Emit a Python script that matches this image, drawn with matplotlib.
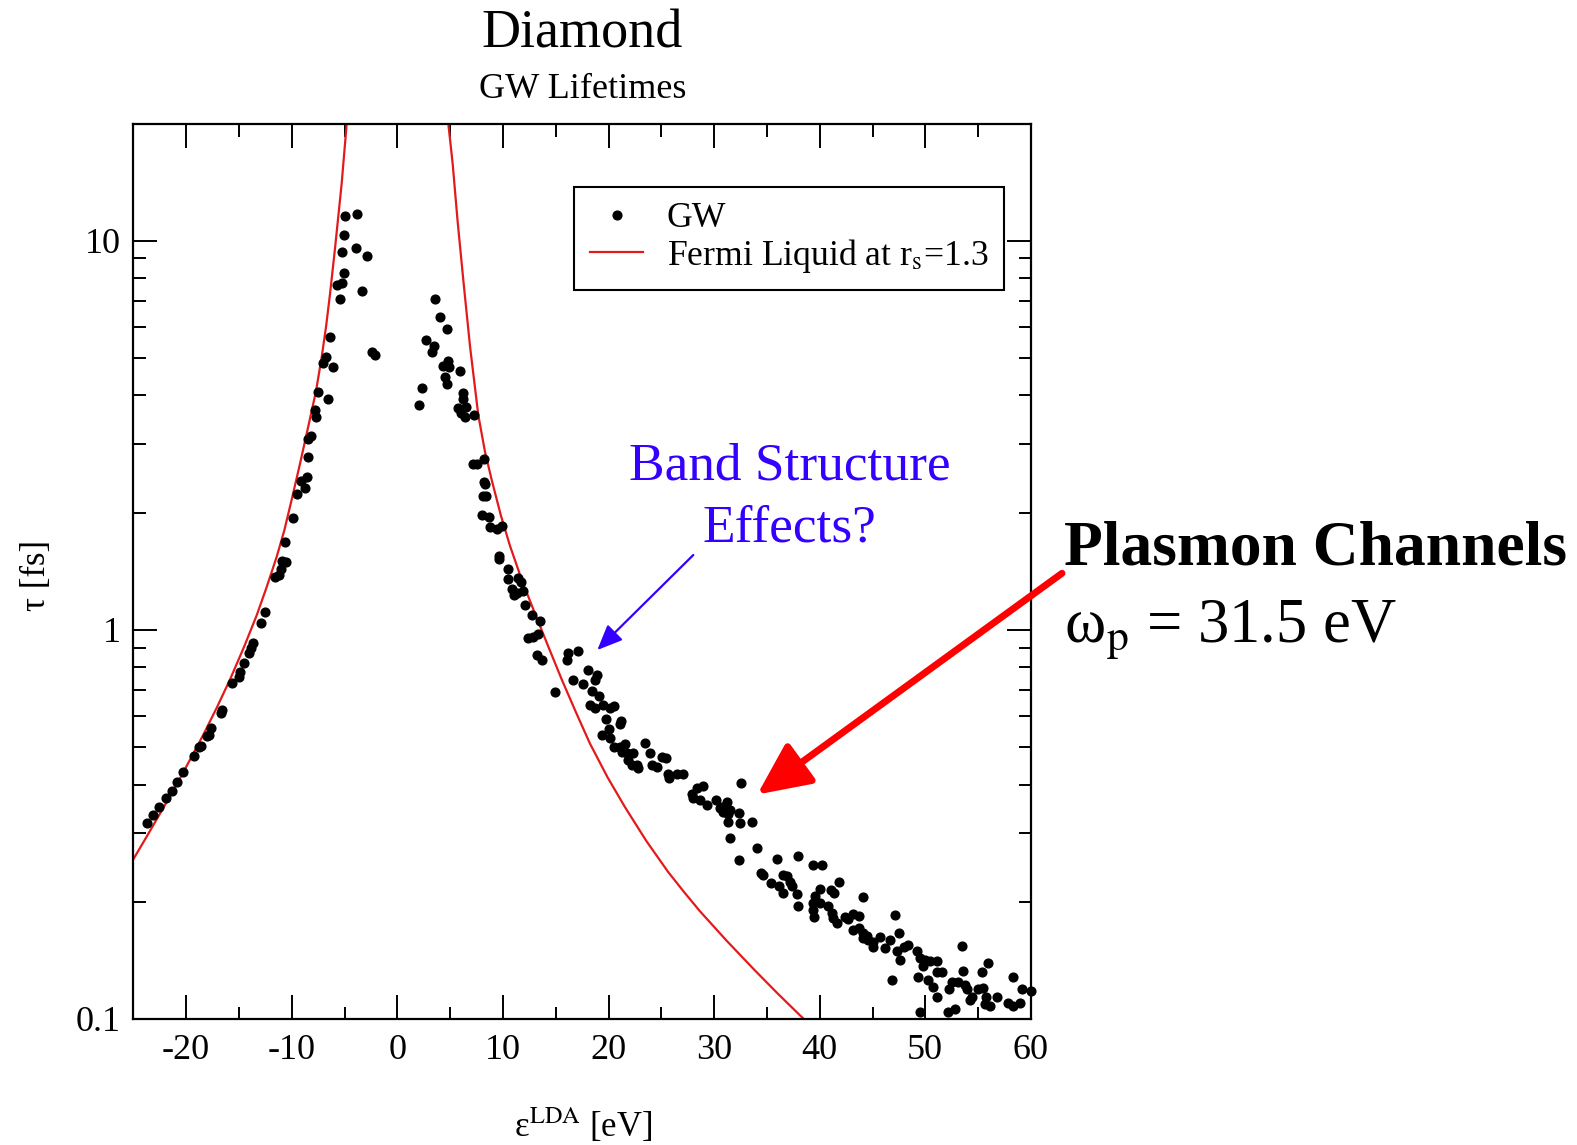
import matplotlib
matplotlib.use('AGG')
import matplotlib.pyplot as plt
from matplotlib.ticker import FixedLocator, LogLocator, NullFormatter, FuncFormatter

plt.rcParams['font.family'] = ['Liberation Serif', 'DejaVu Serif']
plt.rcParams['mathtext.fontset'] = 'stix'
plt.rcParams['axes.unicode_minus'] = False

# GW lifetimes (energy eV, tau fs)
gw_valence = [
    (-4.95, 11.56), (-3.84, 11.74), (-5.05, 10.32), (-3.90, 9.56), (-5.24, 9.34),
    (-2.90, 9.12), (-5.05, 8.26), (-5.74, 7.68), (-5.27, 7.76), (-3.37, 7.42),
    (-5.43, 7.08), (-6.37, 5.66), (-6.75, 5.03), (-7.07, 4.85), (-6.11, 4.74),
    (-2.11, 5.07), (-2.40, 5.17), (-7.54, 4.09), (-6.56, 3.91), (-7.77, 3.68),
    (-7.70, 3.52), (-8.17, 3.15), (-8.48, 3.10), (-8.43, 2.78), (-8.58, 2.47),
    (-9.12, 2.41), (-8.74, 2.31), (-9.53, 2.23), (-9.85, 1.94), (-10.64, 1.68),
    (-10.95, 1.50), (-10.57, 1.49), (-11.05, 1.43), (-11.20, 1.38), (-11.58, 1.37),
    (-12.50, 1.11), (-12.91, 1.04), (-13.70, 0.922), (-13.86, 0.896), (-14.03, 0.872),
    (-14.48, 0.819), (-14.89, 0.777), (-14.96, 0.754), (-15.68, 0.728), (-16.58, 0.622),
    (-16.70, 0.610), (-17.64, 0.560), (-17.81, 0.536), (-18.00, 0.533), (-18.59, 0.503),
    (-18.75, 0.500), (-19.22, 0.475), (-20.26, 0.430), (-20.83, 0.407), (-21.37, 0.385),
    (-21.93, 0.369), (-22.54, 0.351), (-23.17, 0.334), (-23.73, 0.319),
]
gw_conduction = [
    (3.58, 7.06), (4.05, 6.35), (4.67, 5.94), (2.69, 5.57), (3.50, 5.35), (3.26, 5.17),
    (4.83, 4.90), (4.30, 4.76), (4.89, 4.74), (5.94, 4.63), (4.52, 4.47), (4.67, 4.28),
    (2.37, 4.17), (6.20, 4.05), (6.25, 3.91), (2.06, 3.78), (5.72, 3.72), (6.50, 3.74),
    (6.04, 3.61), (6.41, 3.52), (7.24, 3.56), (8.23, 2.74), (7.14, 2.67), (7.52, 2.67),
    (8.23, 2.40), (8.30, 2.37), (8.08, 2.21), (8.37, 2.20), (7.99, 1.97), (8.71, 1.95),
    (8.78, 1.84), (9.42, 1.81), (9.88, 1.85), (9.62, 1.55), (9.65, 1.52), (10.45, 1.43),
    (10.51, 1.35), (11.45, 1.36), (11.71, 1.33), (10.83, 1.27), (11.30, 1.24), (11.93, 1.26),
    (11.08, 1.23), (12.09, 1.16), (12.73, 1.09), (13.52, 1.05), (12.41, 0.950), (12.88, 0.959),
    (13.36, 0.975), (13.21, 0.860), (13.67, 0.835), (16.04, 0.835), (16.19, 0.872), (17.14, 0.881),
    (14.93, 0.692), (18.09, 0.788), (18.88, 0.767), (18.72, 0.742), (16.67, 0.741), (17.56, 0.725),
    (18.41, 0.695), (19.13, 0.675), (18.25, 0.640), (18.72, 0.631), (19.51, 0.640), (20.14, 0.628),
    (20.52, 0.637), (19.74, 0.588), (21.18, 0.583), (21.09, 0.572), (20.07, 0.555), (19.38, 0.536),
    (20.14, 0.526), (20.52, 0.500), (21.09, 0.500), (21.56, 0.509), (21.25, 0.485), (21.78, 0.483),
    (22.35, 0.482), (21.88, 0.463), (22.19, 0.448), (22.67, 0.448), (22.82, 0.440), (23.46, 0.512),
    (23.93, 0.481), (24.09, 0.448), (24.56, 0.444), (25.04, 0.470), (25.44, 0.467), (25.66, 0.427),
    (25.75, 0.415), (26.46, 0.426), (27.09, 0.427),
]
gw_high = [
    (27.88, 0.379), (28.35, 0.392), (28.98, 0.397), (28.03, 0.369), (28.67, 0.365), (29.30, 0.355),
    (30.18, 0.365), (30.56, 0.348), (30.72, 0.351), (31.19, 0.360), (30.81, 0.340), (31.34, 0.337),
    (31.50, 0.344), (32.39, 0.338), (32.46, 0.318), (33.62, 0.321), (31.34, 0.321), (32.52, 0.403),
    (31.50, 0.292), (34.04, 0.274), (32.36, 0.256), (35.99, 0.257), (37.98, 0.262), (34.42, 0.237),
    (34.67, 0.234), (35.39, 0.223), (36.18, 0.219), (36.56, 0.234), (36.93, 0.233), (37.19, 0.225),
    (36.50, 0.210), (37.35, 0.219), (37.88, 0.209), (37.98, 0.195), (39.40, 0.248), (40.19, 0.248),
    (40.03, 0.215), (39.56, 0.207), (39.40, 0.198), (39.34, 0.190), (39.46, 0.183), (40.03, 0.198),
    (41.05, 0.214), (41.35, 0.210), (41.85, 0.225), (40.82, 0.195), (41.13, 0.187), (41.61, 0.176),
    (41.28, 0.182), (42.40, 0.183), (43.13, 0.186), (43.75, 0.184), (42.71, 0.180), (44.13, 0.206),
    (43.19, 0.169), (43.75, 0.171), (44.13, 0.166), (44.45, 0.163), (44.07, 0.161), (44.61, 0.159),
    (45.07, 0.158), (45.07, 0.153), (45.71, 0.162), (46.19, 0.152), (46.66, 0.159), (47.13, 0.185),
    (47.54, 0.166), (47.29, 0.149), (47.61, 0.142), (47.99, 0.153), (48.40, 0.155), (46.87, 0.126),
    (49.19, 0.149), (49.50, 0.143), (49.98, 0.142), (49.76, 0.137), (50.44, 0.141), (51.08, 0.141),
    (49.34, 0.128), (50.28, 0.126), (50.76, 0.121), (51.08, 0.114), (51.08, 0.132), (51.56, 0.132),
    (53.45, 0.154), (53.60, 0.133), (53.13, 0.124), (52.50, 0.124), (53.77, 0.122), (53.93, 0.119),
    (54.39, 0.114), (52.27, 0.119), (55.35, 0.132), (55.96, 0.139), (55.02, 0.119), (55.50, 0.120),
    (55.76, 0.114), (55.66, 0.109), (56.13, 0.108), (56.76, 0.114), (58.28, 0.128), (59.13, 0.119),
    (58.97, 0.110), (58.34, 0.108), (57.86, 0.110), (49.50, 0.104), (52.19, 0.104), (52.82, 0.106),
    (54.23, 0.112), (60.00, 0.118),
]

# Fermi liquid curve (r_s = 1.3), two branches
fl_valence = [
    (-25.00, 0.257), (-23.73, 0.294), (-22.30, 0.343), (-20.89, 0.400), (-19.60, 0.465),
    (-18.37, 0.537), (-17.10, 0.630), (-15.84, 0.745), (-14.50, 0.905), (-13.31, 1.09),
    (-12.40, 1.28), (-11.42, 1.54), (-10.70, 1.80), (-10.00, 2.16), (-9.20, 2.68),
    (-8.43, 3.33), (-7.70, 4.10), (-7.16, 5.02), (-6.75, 6.00), (-6.37, 7.30),
    (-5.89, 9.60), (-5.27, 14.0), (-4.79, 20.0),
]
fl_conduction = [
    (4.83, 20.0), (5.25, 15.7), (5.70, 11.3), (6.25, 7.92), (6.89, 5.34), (7.67, 3.56),
    (8.30, 2.87), (8.95, 2.42), (9.80, 1.97), (10.68, 1.64), (11.80, 1.34), (13.04, 1.10),
    (14.30, 0.905), (15.57, 0.745), (16.90, 0.615), (18.24, 0.510), (19.90, 0.418),
    (21.56, 0.350), (23.60, 0.286), (25.67, 0.238), (27.20, 0.211), (28.66, 0.189),
    (31.20, 0.1586), (33.87, 0.1331), (36.00, 0.1163), (38.29, 0.1011), (38.60, 0.0993),
]

x_ticks = [-20, -10, 0, 10, 20, 30, 40, 50, 60]
y_ticks = [0.1, 1, 10]
y_tick_labels = ['0.1', '1', '10']

W, H = 1577, 1145
fig = plt.figure(figsize=(W / 100, H / 100), dpi=100)
ax = fig.add_axes([133.3 / W, 1 - 1018.8 / H, (1030.9 - 133.3) / W, (1018.8 - 123.5) / H])

red = '#e31a1c'
for i, branch in enumerate([fl_valence, fl_conduction]):
    e, t = zip(*branch)
    ax.plot(e, t, color=red, lw=1.6, label='Fermi Liquid at r$_\\mathrm{s}$=1.3' if i == 0 else None,
            zorder=2)

e, t = zip(*(gw_valence + gw_conduction + gw_high))
ax.plot(e, t, ls='none', marker='o', ms=6.3, color='black', label='GW', clip_on=False, zorder=3)

ax.set_yscale('log')
ax.set_xlim(-25, 60)
ax.set_ylim(0.1, 20)
ax.xaxis.set_major_locator(FixedLocator(x_ticks))
ax.xaxis.set_minor_locator(FixedLocator(range(-25, 61, 5)))
ax.xaxis.set_major_formatter(FuncFormatter(lambda v, p: '%d' % v))
ax.yaxis.set_major_locator(FixedLocator(y_ticks))
ax.yaxis.set_major_formatter(FuncFormatter(lambda v, p: y_tick_labels[y_ticks.index(v)] if v in y_ticks else ''))
ax.yaxis.set_minor_locator(LogLocator(base=10, subs=range(2, 10)))
ax.yaxis.set_minor_formatter(NullFormatter())
ax.tick_params(which='both', direction='in', top=True, right=True, width=1.4, labelsize=26)
ax.tick_params(which='major', length=17.5)
ax.tick_params(which='minor', length=9)
ax.tick_params(axis='x', which='major', pad=11)
ax.tick_params(axis='y', which='major', pad=9)
for s in ax.spines.values():
    s.set_linewidth(1.6)

h, l = ax.get_legend_handles_labels()
leg = ax.legend(h[::-1], l[::-1], loc='upper right', bbox_to_anchor=(0.9697, 0.9293),
                fontsize=25.7, frameon=True, fancybox=False, edgecolor='black', framealpha=1,
                handlelength=1.5, handletextpad=0.66, labelspacing=0.05, borderpad=0.43, borderaxespad=0)
leg.get_frame().set_linewidth(1.5)

# titles and axis labels
fig.text(582.3 / W, 1 - 47.3 / H, 'Diamond', ha='center', va='baseline', fontsize=39)
fig.text(582.3 / W, 1 - 97.6 / H, 'GW Lifetimes', ha='center', va='baseline', fontsize=26)
fig.text(583.3 / W, 1 - 1136.5 / H, '\u03b5$^{\\mathrm{LDA}}$ [eV]', ha='center', va='baseline', fontsize=25)
fig.text(36.2 / W, 1 - 575.3 / H, '\u03c4 [fs]', ha='center', va='center', rotation=90, fontsize=25)

# annotations
blue = '#3300ff'
fig.text(789.5 / W, 1 - 479 / H, 'Band Structure', ha='center', va='baseline', fontsize=38.4, color=blue)
fig.text(789.5 / W, 1 - 541 / H, 'Effects?', ha='center', va='baseline', fontsize=38.4, color=blue)
ax.annotate('', xy=(597.3 / W, 1 - 650 / H), xytext=(693.3 / W, 1 - 555 / H),
            xycoords='figure fraction', textcoords='figure fraction',
            arrowprops=dict(arrowstyle='-|>,head_length=1.4,head_width=0.6', color=blue, lw=1.6,
                            mutation_scale=11, shrinkA=0, shrinkB=0))

fig.text(1064 / W, 1 - 564 / H, 'Plasmon Channels', ha='left', va='baseline', fontsize=45.7, fontweight='bold')
fig.text(1064 / W, 1 - 641.7 / H, '\u03c9$_\\mathrm{p}$ = 31.5 eV', ha='left', va='baseline', fontsize=45)
ax.annotate('', xy=(757.3 / W, 1 - 794.5 / H), xytext=(1062 / W, 1 - 573.3 / H),
            xycoords='figure fraction', textcoords='figure fraction',
            arrowprops=dict(arrowstyle='-|>,head_length=1.6,head_width=0.75', color='#ff0000', lw=5,
                            mutation_scale=20, shrinkA=0, shrinkB=0))

fig.savefig('out.png', dpi=100)
